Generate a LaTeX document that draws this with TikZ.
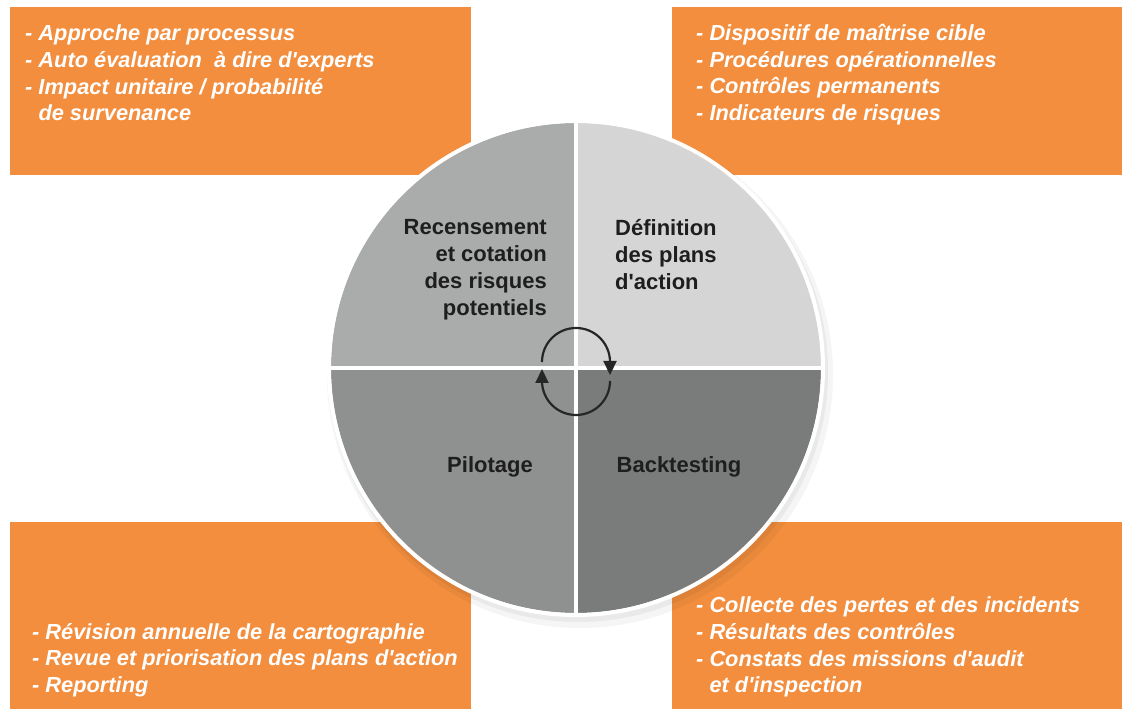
\documentclass[tikz,border=0pt]{standalone}
\usepackage{fontspec}
\setmainfont{Liberation Sans}
\usepackage{tikz}
\usetikzlibrary{arrows.meta}
\definecolor{boxorange}{RGB}{242,142,62}
\definecolor{quadA}{RGB}{170,171,171}
\definecolor{quadB}{RGB}{213,213,213}
\definecolor{quadC}{RGB}{143,144,144}
\definecolor{quadD}{RGB}{122,123,123}
\definecolor{quadtext}{RGB}{30,30,30}

\begin{document}
\begin{tikzpicture}[
  x=1pt,y=1pt,
  boxtext/.style={font=\fontsize{21.8}{26.6}\selectfont\bfseries\itshape,text=white,align=left,inner sep=0pt,anchor=north west},
  quadlabel/.style={font=\fontsize{22}{27}\selectfont\bfseries,text=quadtext,inner sep=0pt},
  cyc/.style={-{Triangle[length=14pt,width=13pt]},line width=2.2pt,black!85}
]
\useasboundingbox (0,0) rectangle (1122,709);

% Boxes
\fill[boxorange] (10,534) rectangle (471,702);
\fill[boxorange] (672,534) rectangle (1122,702);
\fill[boxorange] (10,0) rectangle (471,187);
\fill[boxorange] (672,0) rectangle (1122,187);

\node[boxtext] (tl) at (25,684) {- Approche par processus\\- Auto évaluation\ \ à dire d\textquotesingle experts\\- Impact unitaire / probabilité\\\hphantom{- }de survenance};
\node[boxtext] (tr) at (696,685) {- Dispositif de maîtrise cible\\- Procédures opérationnelles\\- Contrôles permanents\\- Indicateurs de risques};
\node[boxtext] (bl) at (32,86) {- Révision annuelle de la cartographie\\- Revue et priorisation des plans d\textquotesingle action\\- Reporting};
\node[boxtext] (br) at (696,112) {- Collecte des pertes et des incidents\\- Résultats des contrôles\\- Constats des missions d\textquotesingle audit\\\hphantom{- }et d\textquotesingle inspection};

% Circle
\fill[black,opacity=0.04] (580,334) circle (253);
\fill[black,opacity=0.05] (578,337) circle (250);
\fill[quadA] (576,341) -- (331,341) arc (180:90:245) -- cycle;
\fill[quadB] (576,341) -- (576,586) arc (90:0:245) -- cycle;
\fill[quadC] (576,341) -- (576,96) arc (270:180:245) -- cycle;
\fill[quadD] (576,341) -- (821,341) arc (0:-90:245) -- cycle;
\draw[white,line width=4pt] (331,341) -- (821,341);
\draw[white,line width=4pt] (576,96) -- (576,586);
\draw[white,line width=4pt] (576,341) circle (247);

\node[quadlabel,align=right,anchor=north east] (recens) at (547,490) {Recensement\\et cotation\\des risques\\potentiels};
\node[quadlabel,align=left,anchor=north west] (defin) at (615,490) {Définition\\des plans\\d\textquotesingle action};
\node[quadlabel] (pilot) at (490,242) {Pilotage};
\node[quadlabel] (backt) at (679,242) {Backtesting};

% Cycle
\draw[cyc] (542,347) arc (180:0:34) -- (610,334);
\draw[cyc] (610,328) arc (0:-180:34) -- (542,340);
\end{tikzpicture}
\end{document}
